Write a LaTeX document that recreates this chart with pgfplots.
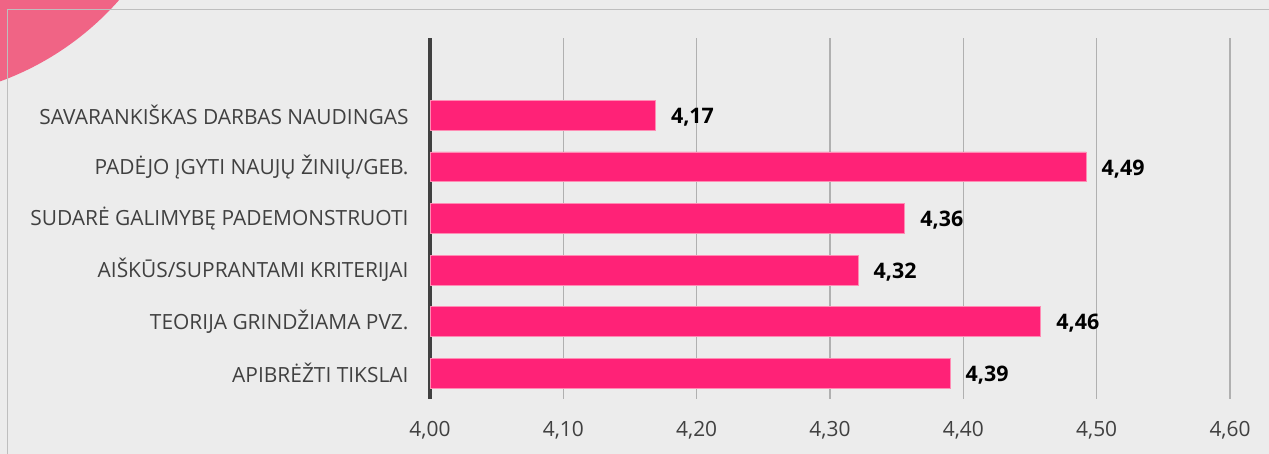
\documentclass[border=0pt]{standalone}
\usepackage{pgfplots}
\pgfplotsset{compat=1.18}
\usepackage{pgfplotstable}
\usepackage{fontspec}
\setmainfont{Open Sans}
\definecolor{bg}{HTML}{ECECEC}
\definecolor{barpink}{HTML}{FF2277}
\definecolor{baredge}{HTML}{FF8CB4}
\definecolor{txt}{HTML}{404040}
\definecolor{gridc}{HTML}{B0B0B0}
\definecolor{deco}{HTML}{F06485}
\definecolor{frame}{HTML}{BEBEBE}
\pgfplotstableread{
y x lab
0 4.390 4,39
1 4.458 4,46
2 4.321 4,32
3 4.356 4,36
4 4.492 4,49
5 4.169 4,17
}\datatab
\begin{document}
\begin{tikzpicture}
\fill[bg] (0,0) rectangle (1269bp,454bp);
\useasboundingbox (0,0) rectangle (1269bp,454bp);
\begin{scope}
\clip (0,0) rectangle (1269bp,454bp);
\fill[deco] (-100bp,647bp) circle (292bp);
\draw[frame, line width=1bp] (7bp,-10bp) -- (7bp,444.5bp) -- (1300bp,444.5bp);
\end{scope}
\begin{axis}[
  at={(430bp,55bp)}, anchor=south west,
  width=800bp, height=361bp, scale only axis,
  xbar, bar width=0.58,
  xmin=4, xmax=4.6, ymin=-0.5, ymax=6.5,
  xtick={4,4.1,4.2,4.3,4.4,4.5,4.6},
  xticklabels={{4,00},{4,10},{4,20},{4,30},{4,40},{4,50},{4,60}},
  ytick={0,1,2,3,4,5},
  yticklabels={APIBRĖŽTI TIKSLAI, TEORIJA GRINDŽIAMA PVZ., AIŠKŪS/SUPRANTAMI KRITERIJAI, SUDARĖ GALIMYBĘ PADEMONSTRUOTI, PADĖJO ĮGYTI NAUJŲ ŽINIŲ/GEB., SAVARANKIŠKAS DARBAS NAUDINGAS},
  axis lines*=left,
  x axis line style={draw=none},
  y axis line style={draw=txt, line width=3bp},
  major tick length=0,
  xmajorgrids,
  grid style={draw=gridc, line width=1.5bp},
  tick label style={font=\fontsize{21}{24}\selectfont, text=txt},
  yticklabel style={xshift=-18bp},
  xticklabel style={yshift=-19bp},
  nodes near coords,
  point meta=explicit symbolic,
  nodes near coords style={font=\fontsize{21.5}{24}\selectfont\bfseries, text=black, anchor=west, xshift=12bp, yshift=-2bp},
]
\addplot[fill=barpink, draw=baredge, line width=0.8bp] table[x=x, y=y, meta=lab]{\datatab};
\end{axis}
\end{tikzpicture}
\end{document}
